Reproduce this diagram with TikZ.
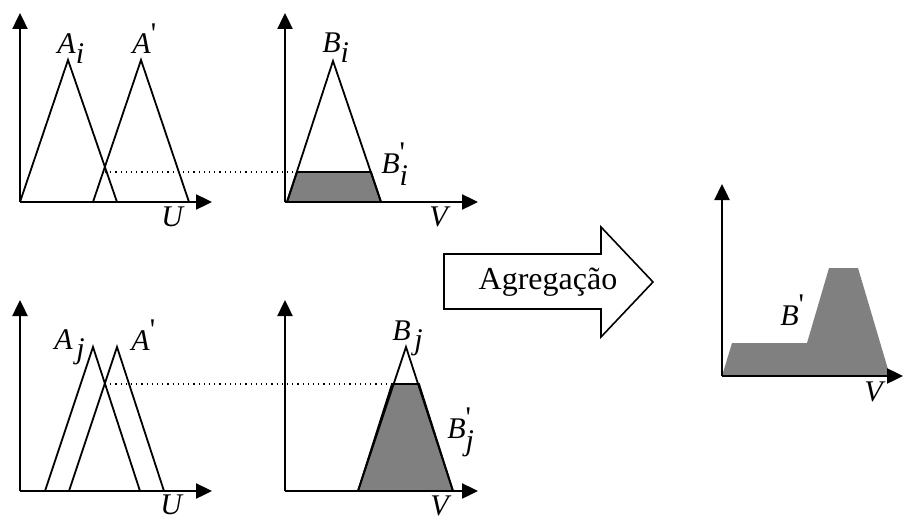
\documentclass[tikz,border=0pt]{standalone}
\usepackage{fontspec}
\setmainfont{Liberation Serif}
\usetikzlibrary{positioning,arrows.meta}
\tikzset{
  fzaxis/.style={line width=1.2pt, -{Triangle[length=8pt,width=7.5pt]}},
  fzset/.style={draw=black, line width=0.9pt, line join=miter},
  fzcut/.style={fill=black!50, draw=black, line width=0.9pt},
  fzagg/.style={fill=black!50},
  fzdot/.style={dotted, line width=0.6pt},
  fzlab/.style={font=\fontsize{15}{15}\selectfont, inner sep=0pt},
  fzbig/.style={draw=black, line width=0.8pt, line join=miter},
}
\newcommand{\fzPr}{\textrm{\textquotesingle}}

\begin{document}
\begin{tikzpicture}[x=0.5pt,y=-0.5pt]
  \useasboundingbox (0,0) rectangle (904,519);
  % axis origins
  \coordinate (o1) at (20,202);
  \coordinate (o2) at (285,202);
  \coordinate (o3) at (20,491);
  \coordinate (o4) at (285,491);
  \coordinate (o5) at (722,376);
  \coordinate (y1) at (20,13);   \coordinate (x1) at (212,202);
  \coordinate (y2) at (285,13);  \coordinate (x2) at (478,202);
  \coordinate (y3) at (20,300);  \coordinate (x3) at (212,491);
  \coordinate (y4) at (285,300); \coordinate (x4) at (478,491);
  \coordinate (y5) at (722,184); \coordinate (x5) at (903,376);

  % rule i
  \draw[fzcut] (297,172) -- (371,172) -- (381,202) -- (287,202) -- cycle;
  \draw[fzset] (20,202) -- (68,60) -- (117,202);
  \draw[fzset] (93,202) -- (141,60) -- (189,202);
  \draw[fzset] (287,202) -- (333,61) -- (381,202);
  \draw[fzdot] (105,172) -- (297,172);
  \draw[fzaxis] (o1) -- (y1);
  \draw[fzaxis] (o1) -- (x1);
  \draw[fzaxis] (o2) -- (y2);
  \draw[fzaxis] (o2) -- (x2);
  \node[fzlab, anchor=base west] (ai) at (57,54) {\textit{A}$_{\textit{i}}$};
  \node[fzlab, anchor=base west] (ap1) at (132,54) {\textit{A}$^{\fzPr}$};
  \node[fzlab, anchor=base] (u1) at (173,226) {\textit{U}};
  \node[fzlab, anchor=base west] (bi) at (322,53) {\textit{B}$_{\textit{i}}$};
  \node[fzlab, anchor=base west] (bpi) at (381,173) {\textit{B}$^{\fzPr}_{\textit{i}}$};
  \node[fzlab, anchor=base] (v1) at (440,226) {\textit{V}};

  % rule j
  \draw[fzcut] (392,384) -- (419,384) -- (453,491) -- (358,491) -- cycle;
  \draw[fzset] (45,491) -- (93,347) -- (140,491);
  \draw[fzset] (69,491) -- (117,347) -- (164,491);
  \draw[fzset] (358,491) -- (406,347) -- (453,491);
  \draw[fzdot] (105,384) -- (392,384);
  \draw[fzaxis] (o3) -- (y3);
  \draw[fzaxis] (o3) -- (x3);
  \draw[fzaxis] (o4) -- (y4);
  \draw[fzaxis] (o4) -- (x4);
  \node[fzlab, anchor=base west] (aj) at (54,349) {\textit{A}$_{\,\textit{j}}$};
  \node[fzlab, anchor=base west] (ap2) at (131,350) {\textit{A}$^{\fzPr}$};
  \node[fzlab, anchor=base] (u2) at (172,514) {\textit{U}};
  \node[fzlab, anchor=base west] (bj) at (392,340) {\textit{B}$_{\,\textit{j}}$};
  \node[fzlab, anchor=base west] (bpj) at (447,438) {\textit{B}$^{\fzPr}_{\textit{j}}$};
  \node[fzlab, anchor=base] (v2) at (441,515) {\textit{V}};

  % aggregation arrow
  \draw[fzbig] (444,254) -- (601,254) -- (601,227) -- (653,282)
    -- (601,337) -- (601,309) -- (444,309) -- cycle;
  \node[font=\fontsize{16}{16}\selectfont, inner sep=0pt] (agg) at (548,282) {Agregação};

  % result
  \fill[fzagg] (722,376) -- (732,343) -- (807,343) -- (829,268)
    -- (858,268) -- (890,376) -- cycle;
  \draw[fzaxis] (o5) -- (y5);
  \draw[fzaxis] (o5) -- (x5);
  \node[fzlab, anchor=base west] (bp) at (780,325) {\textit{B}$^{\fzPr}$};
  \node[fzlab, anchor=base] (v3) at (875,401) {\textit{V}};
\end{tikzpicture}
\end{document}
